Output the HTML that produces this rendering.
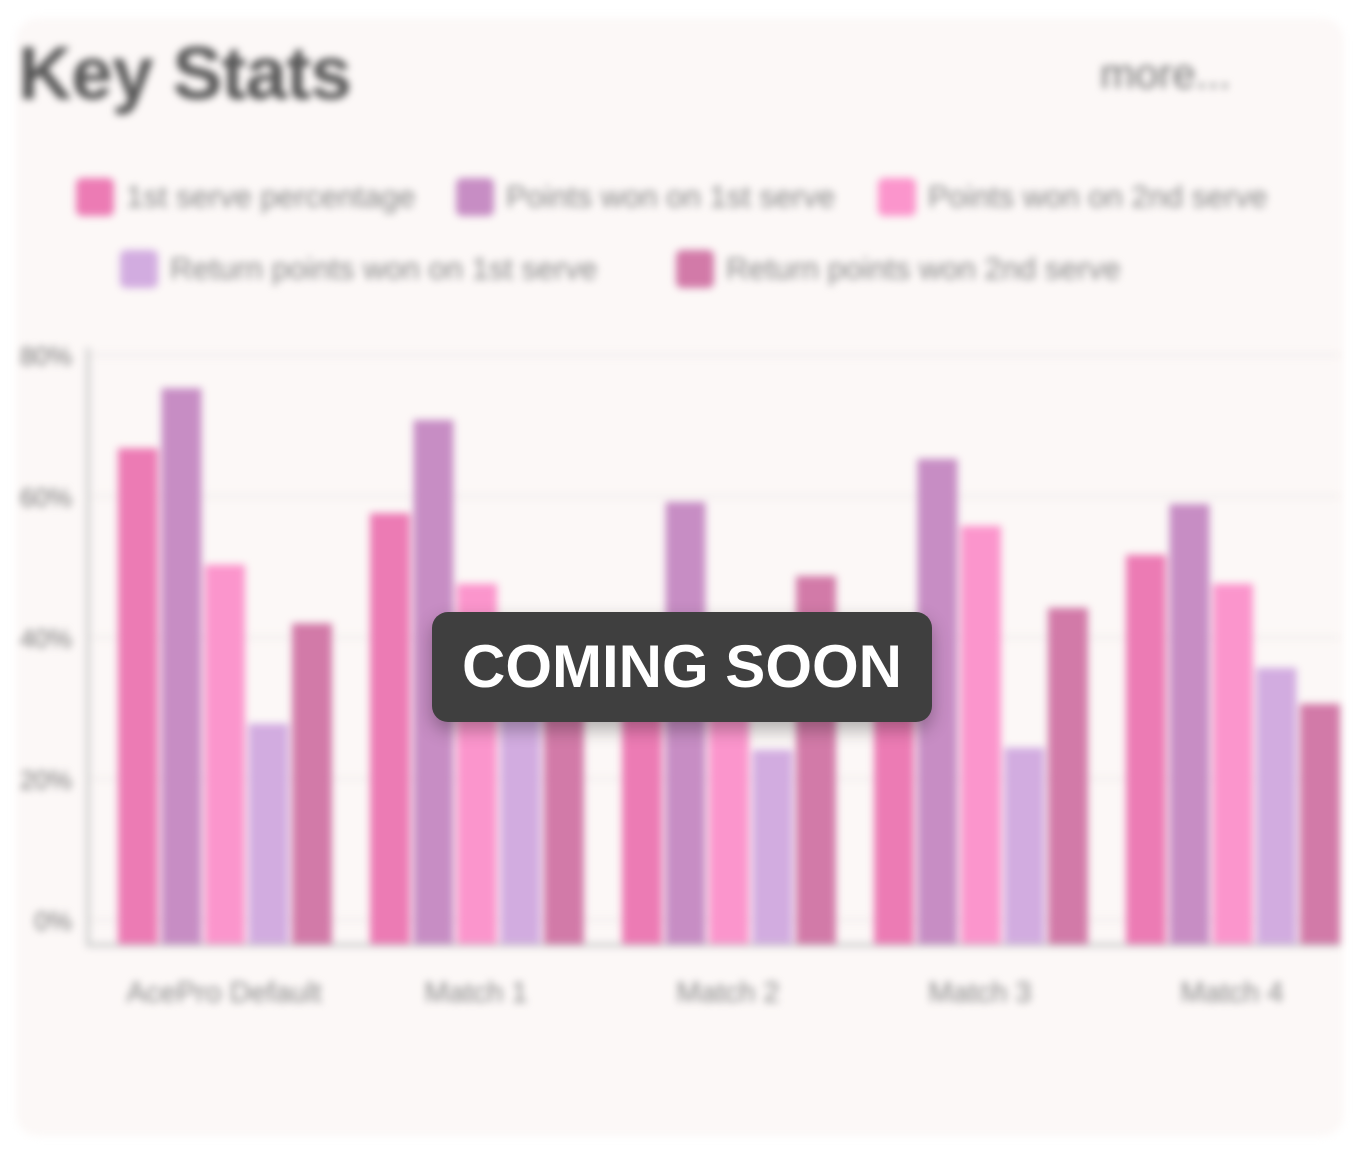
<!DOCTYPE html>
<html><head><meta charset="utf-8"><style>
html,body{margin:0;padding:0;width:1360px;height:1152px;background:#fff;overflow:hidden;font-family:"Liberation Sans",sans-serif}
#card{position:absolute;left:16px;top:18px;width:1328px;height:1118px;background:#fcf8f7;border-radius:22px;filter:blur(4px)}
#blurwrap{position:absolute;left:0;top:0;width:1360px;height:1152px;filter:blur(4px)}
.title{position:absolute;left:18px;top:30px;font-size:75px;font-weight:bold;color:#555;letter-spacing:-1px}
.more{position:absolute;left:1100px;top:50px;font-size:42px;color:#777}
.leg{position:absolute;font-size:31px;color:#888;display:flex;align-items:center}
.leg i{display:inline-block;width:38px;height:38px;border-radius:6px;margin-right:12px}
#overlay{position:absolute;left:432px;top:612px;width:500px;height:110px;background:#3f3f3f;border-radius:16px;color:#fff;font-weight:bold;font-size:60px;text-align:center;line-height:110px;box-shadow:0 8px 18px rgba(0,0,0,.3)}
</style></head><body>
<div id="card"></div>
<div id="blurwrap">
<div class="title">Key Stats</div>
<div class="more">more...</div>
<div class="leg" style="left:76px;top:178px"><i style="background:#ec7bb4"></i>1st serve percentage</div>
<div class="leg" style="left:456px;top:178px"><i style="background:#c78dc4"></i>Points won on 1st serve</div>
<div class="leg" style="left:878px;top:178px"><i style="background:#fb95cc"></i>Points won on 2nd serve</div>
<div class="leg" style="left:120px;top:250px"><i style="background:#d2ace0"></i>Return points won on 1st serve</div>
<div class="leg" style="left:676px;top:250px"><i style="background:#d27aa8"></i>Return points won 2nd serve</div>
<svg id="chart" width="1360" height="1152" style="position:absolute;left:0;top:0"></svg>
</div>
<div id="overlay">COMING SOON</div>
<script>
const categories=["AcePro Default","Match 1","Match 2","Match 3","Match 4"];
const firstServePct=[66.8,57.6,38,34,51.7];
const ptsWon1st=[75.3,70.8,59.2,65.3,58.9];
const ptsWon2nd=[50.3,47.6,37,55.8,47.6];
const ret1st=[27.8,32,24.1,24.4,35.7];
const ret2nd=[42,33,48.7,44.2,30.6];
const tickValues=[0,20,40,60,80];
const tickLabels=["0%","20%","40%","60%","80%"];
const series=[firstServePct,ptsWon1st,ptsWon2nd,ret1st,ret2nd];
const colors=["#ec7bb4","#c78dc4","#fb95cc","#d2ace0","#d27aa8"];
const NS="http://www.w3.org/2000/svg";
const svg=document.getElementById("chart");
const y=v=>920-v*(920-355)/80;
const base=944;
const gx=i=>118+i*252;
const bx=(i,s)=>gx(i)+s*43.5;
function mk(t,a){const e=document.createElementNS(NS,t);for(const k in a)e.setAttribute(k,a[k]);svg.appendChild(e);return e;}
tickValues.forEach((v,i)=>{
 const g=mk("line",{x1:90,x2:1340,y1:y(v),y2:y(v),stroke:"#eee8e8","stroke-width":2});
 
 
 const t=mk("text",{x:72,y:y(v)+10,"text-anchor":"end","font-size":26,fill:"#777","font-family":"Liberation Sans, sans-serif"});
 t.textContent=tickLabels[i];
 
 
});
const ax=mk("path",{d:"M88 348 V945 H1340",stroke:"#ccc","stroke-width":4,fill:"none"});


categories.forEach((c,i)=>{
 series.forEach((arr,s)=>{
  const r=mk("rect",{x:bx(i,s),y:y(arr[i]),width:40,height:base-y(arr[i]),fill:colors[s]});
  
  
 });
 const t=mk("text",{x:gx(i)+106,y:1002,"text-anchor":"middle","font-size":29,fill:"#888","font-family":"Liberation Sans, sans-serif"});
 t.textContent=c;
 
 
});
</script>
</body></html>
